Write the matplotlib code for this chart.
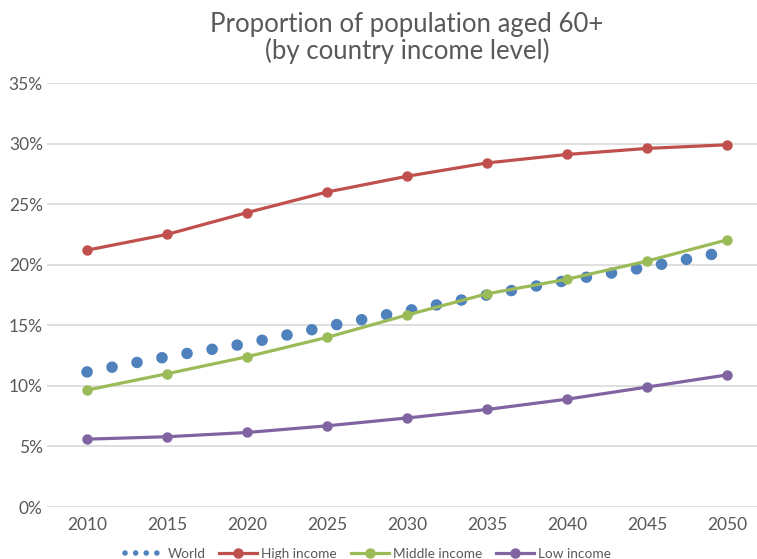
import matplotlib.pyplot as plt
import numpy as np
from matplotlib.ticker import FuncFormatter

plt.rcParams['font.family'] = ['Lato', 'DejaVu Sans']

years = [2010, 2015, 2020, 2025, 2030, 2035, 2040, 2045, 2050]
world = [11.15, 12.4, 13.5, 14.9, 16.2, 17.5, 18.7, 19.8, 21.1]
high_income = [21.2, 22.5, 24.3, 26.0, 27.3, 28.4, 29.1, 29.6, 29.9]
middle_income = [9.65, 11.0, 12.4, 14.0, 15.85, 17.6, 18.8, 20.3, 22.05]
low_income = [5.6, 5.8, 6.15, 6.7, 7.35, 8.05, 8.9, 9.9, 10.9]

grey = '#595959'

fig = plt.figure(figsize=(7.57, 5.59), dpi=100)
ax = fig.add_axes([47 / 757, 52 / 559, 710 / 757, 424 / 559])

lw_dot = 8.3
ax.plot(years, world, color='#4f81bd', linewidth=lw_dot,
        linestyle=(0, (0.01, 25.3 * 0.72 / lw_dot)), dash_capstyle='round',
        label='World', zorder=2)
ax.plot(years, high_income, color='#c0504d', linewidth=2.3, marker='o',
        markersize=6.5, label='High income', zorder=3)
ax.plot(years, middle_income, color='#9bbb59', linewidth=2.3, marker='o',
        markersize=6.5, label='Middle income', zorder=3)
ax.plot(years, low_income, color='#8064a2', linewidth=2.3, marker='o',
        markersize=6.5, label='Low income', zorder=3)

ax.set_xlim(2007.5, 2007.5 + 710 / 16)
ax.set_ylim(0, 35)
ax.set_xticks(years)
ax.set_yticks(np.arange(0, 36, 5))
ax.yaxis.set_major_formatter(FuncFormatter(lambda v, p: f'{v:.0f}%'))
ax.tick_params(length=0, labelsize=12.5, labelcolor=grey)
ax.tick_params(axis='y', pad=3)
ax.tick_params(axis='x', pad=7)
ax.grid(axis='y', color='#d9d9d9', linewidth=1.2)
ax.set_axisbelow(True)
for s in ax.spines.values():
    s.set_visible(False)

fig.text(407 / 757, 1 - 38 / 559, 'Proportion of population aged 60+\n(by country income level)',
         ha='center', va='center', fontsize=18.5, color=grey, linespacing=1.05)

leg = fig.legend(loc='center', bbox_to_anchor=(368 / 757, 1 - 554 / 559), ncol=4,
                 frameon=False, fontsize=9.8, labelcolor=grey, handlelength=2.8,
                 columnspacing=1.0, handletextpad=0.3)
leg.legend_handles[0].set_linewidth(4)
leg.legend_handles[0].set_linestyle((0, (0.01, 1.9)))

fig.savefig('out.png', dpi=100)
